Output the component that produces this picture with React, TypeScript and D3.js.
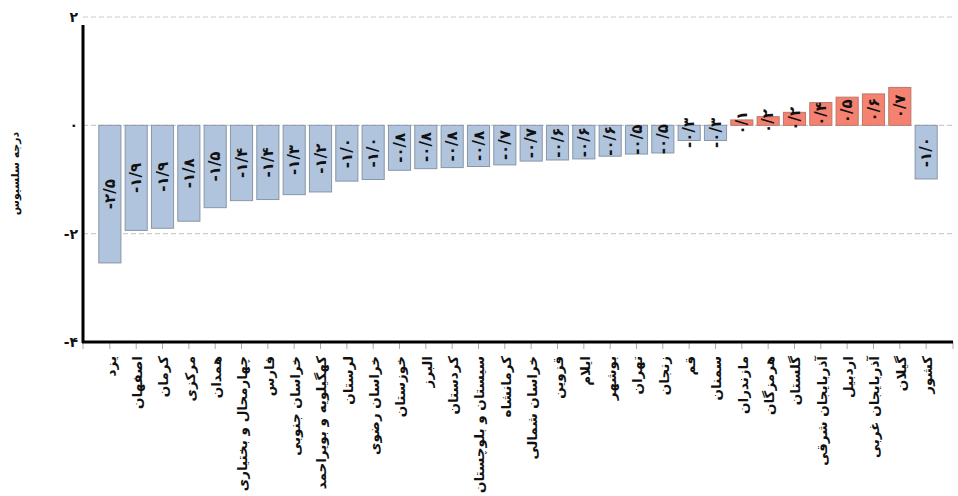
import React from 'react';
import * as d3 from 'd3';

const provinces = [
  'یزد', 'اصفهان', 'کرمان', 'مرکزی', 'همدان', 'چهارمحال و بختیاری', 'فارس',
  'خراسان جنوبی', 'کهگیلویه و بویراحمد', 'لرستان', 'خراسان رضوی', 'خوزستان',
  'البرز', 'کردستان', 'سیستان و بلوچستان', 'کرمانشاه', 'خراسان شمالی', 'قزوین',
  'ایلام', 'بوشهر', 'تهران', 'زنجان', 'قم', 'سمنان', 'مازندران', 'هرمزگان',
  'گلستان', 'آذربایجان شرقی', 'اردبیل', 'آذربایجان غربی', 'گیلان', 'کشور',
];

const anomalies = [
  -2.54, -1.94, -1.9, -1.77, -1.52, -1.39, -1.37,
  -1.28, -1.23, -1.03, -1.0, -0.83,
  -0.8, -0.78, -0.76, -0.73, -0.66, -0.64,
  -0.62, -0.57, -0.53, -0.51, -0.28, -0.28, 0.1, 0.16,
  0.24, 0.42, 0.52, 0.58, 0.7, -0.99,
];

const yTicks = [2, 0, -2, -4];
const yTitle = 'درجه سلسیوس';

const W = 958;
const H = 496;
const left = 83;
const right = 953;
const top = 17;
const bottom = 342;

const faDigits = '۰۱۲۳۴۵۶۷۸۹';
const toFa = (s: string) =>
  s.replace(/[0-9]/g, (d) => faDigits[+d]).replace('.', '/');

const fmtVal = (v: number) => toFa(v.toFixed(1));
const fmtTick = (v: number) => toFa(String(v));

const font = '"DejaVu Sans", sans-serif';

export default function App() {
  const x = d3.scaleBand<string>()
    .domain(provinces)
    .range([left, right])
    .paddingInner(0.16)
    .paddingOuter(0.6);

  const y = d3.scaleLinear().domain([-4, 2]).range([bottom, top]);
  const bw = x.bandwidth();

  return (
    <svg width={W} height={H} style={{ position: 'absolute', left: 0, top: 0 }}>
      {/* grid */}
      {yTicks.filter((t) => t !== -4).map((t) => (
        <line key={t} x1={left} x2={right} y1={y(t)} y2={y(t)}
          stroke="#cccccc" strokeWidth={1.2} strokeDasharray="5,3" />
      ))}

      {/* bars */}
      {provinces.map((p, i) => {
        const v = anomalies[i];
        const pos = v >= 0;
        const y0 = y(Math.max(0, v));
        const y1 = y(Math.min(0, v));
        const cx = (x(p) as number) + bw / 2;
        const cy = (y0 + y1) / 2;
        return (
          <g key={p}>
            <rect x={x(p)} y={y0} width={bw} height={y1 - y0}
              fill={pos ? '#f58170' : '#b0c4de'}
              stroke={pos ? '#b8786c' : '#8896a8'} strokeWidth={1} />
            <text transform={`translate(${cx},${cy}) rotate(-90)`}
              textAnchor="middle" dy="0.35em" fontFamily={font}
              fontWeight="bold" fontSize={15} fill="#111" direction="ltr">
              {fmtVal(v)}
            </text>
          </g>
        );
      })}

      {/* x ticks */}
      {[left, ...provinces.map((p) => (x(p) as number) + bw / 2), right].map((tx, i) => (
        <line key={i} x1={tx} x2={tx} y1={bottom} y2={bottom + 7}
          stroke="#aaaaaa" strokeWidth={1} />
      ))}

      {/* x labels */}
      {provinces.map((p) => {
        const cx = (x(p) as number) + bw / 2;
        return (
          <text key={p} transform={`translate(${cx + 1},${bottom + 14}) rotate(-90)`}
            textAnchor="end" dy="0.35em" fontFamily={font} fontWeight="bold"
            fontSize={13.5} fill="#111">
            {p}
          </text>
        );
      })}

      {/* axes */}
      <line x1={left} x2={left} y1={top + 8} y2={bottom + 1} stroke="#000" strokeWidth={3} />
      <line x1={left - 1} x2={right} y1={bottom} y2={bottom} stroke="#000" strokeWidth={3} />

      {/* y tick labels */}
      {yTicks.map((t) => (
        <text key={t} x={78} y={y(t)} dy="0.35em" textAnchor="end"
          fontFamily={font} fontWeight="bold" fontSize={14} fill="#111" direction="ltr">
          {fmtTick(t)}
        </text>
      ))}

      {/* y title */}
      <text transform={`translate(15,${(top + bottom) / 2 - 6}) rotate(-90)`}
        textAnchor="middle" dy="0.35em" fontFamily={font} fontWeight="bold"
        fontSize={11} fill="#111">
        {yTitle}
      </text>
    </svg>
  );
}
